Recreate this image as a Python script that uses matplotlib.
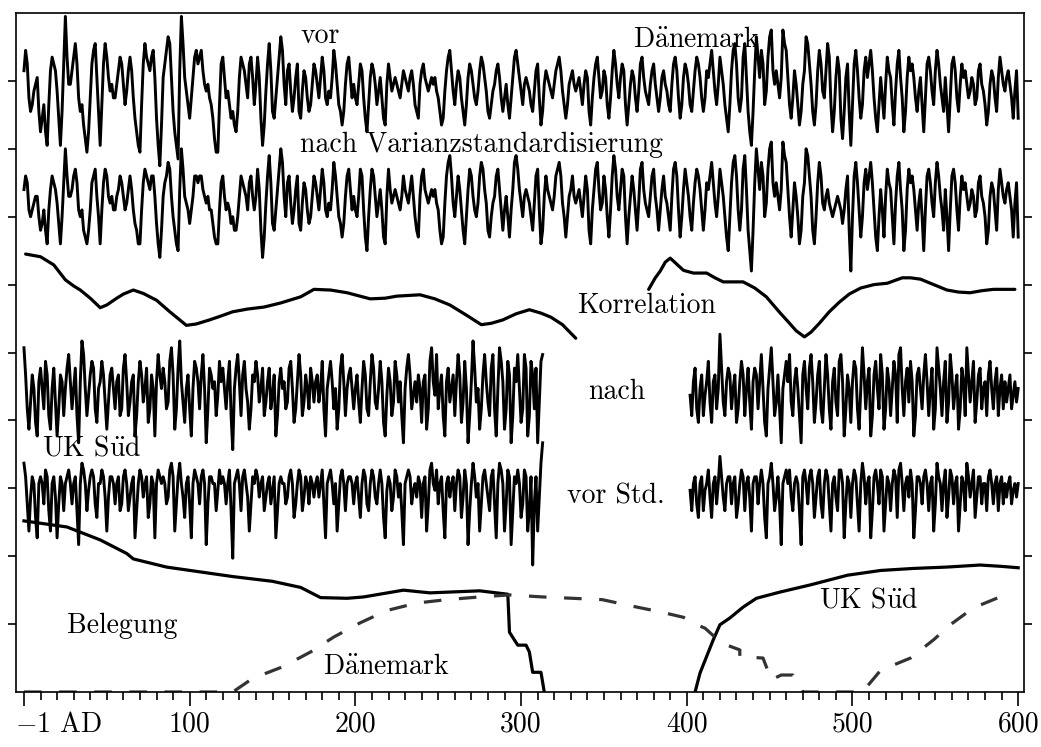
import numpy as np
import matplotlib
matplotlib.use("Agg")
import matplotlib.pyplot as plt

plt.rcParams['font.family'] = 'serif'
plt.rcParams['font.serif'] = ['cmr10', 'DejaVu Serif']
plt.rcParams['mathtext.fontset'] = 'cm'
plt.rcParams['axes.unicode_minus'] = False

# --- Dänemark ring index, one value per year from year 0 (tenths of a unit) ---
dk_start = 0
dk_vor = [
    3, 6, 4, -1, -3, -2, 0, 1, 2, -3, -6, -4, -2, -6, -8, -2, 3, 5, 4, 3,
    0, -4, -8, -3, 4, 11, 5, 1, 1, 3, 5, 7, 4, -1, -3, -2, -5, -7, -9, -6,
    -1, 4, 6, 7, 2, -3, -8, -2, 4, 7, 5, 2, 0, 1, -1, -1, 1, 3, 5, 4,
    1, -2, 0, 3, 5, 3, -1, -4, -6, -8, -9, -2, 4, 7, 5, 4, 3, 5, 6, 2,
    -4, -8, -11, -5, 2, 4, 6, 8, 7, 2, -3, -6, -8, -10, 3, 11, 7, 2, 0, -2,
    -4, -1, 2, 5, 6, 4, 5, 6, 3, 1, 0, 1, -1, -2, -4, -7, -9, -9, -2, 4,
    5, 2, -1, 0, -2, -4, -3, -5, -6, -3, 2, 5, 4, 3, 1, -1, 4, 5, 2, -2,
    1, 5, 2, -4, -8, -5, 0, 4, 7, 3, -3, -4, -1, 2, 5, 8, 6, 1, -2, 3,
    4, 0, -3, -1, 2, 4, -3, -4, 0, 3, 2, -1, -3, -2, 1, 4, 3, 1, -1, 2,
    5, 3, -1, -2, 0, -1, 2, 6, 4, 1, -2, -3, -5, -3, 1, 4, 5, 2, -1, 1,
    -1, -2, 1, 4, 3, -1, -4, -6, -2, 2, 4, 3, 1, -2, 0, 2, -1, -4, -5, 1,
    4, 2, 0, 1, 2, 1, 0, -1, 1, 3, 2, 1, 0, 2, 3, 1, -2, -3, -4, 1,
    3, 4, 2, 1, 0, 1, 2, 1, 2, 0, -1, -3, -5, -4, 0, 3, 5, 6, 3, 0,
    -2, 1, 3, 2, -1, -3, -5, -2, 2, 4, 3, 1, -1, -2, 0, 3, 5, 4, 2, 0,
    -3, -4, -2, 0, 1, 3, 4, 2, -1, -3, -1, 1, -2, -4, -1, 2, 5, 6, 4, 2,
    0, -2, 1, 2, 1, 0, -2, -3, 0, 3, 4, -1, -5, -3, 1, 3, 2, 1, 0, -1,
    1, 3, 4, 5, 3, 0, -2, -4, -2, 1, 2, 3, 1, 0, 1, 2, 0, -2, 1, 3,
    2, -3, -5, -1, 2, 4, 5, 2, -1, 0, 3, 2, -2, -4, -1, 3, 6, 4, 1, -1,
    2, 4, 3, -2, -5, -2, 1, 3, 2, -1, -3, 0, 4, 5, 2, 0, -1, -2, 1, 3,
    4, 1, -1, -3, -1, 2, 3, 1, 0, -2, -3, 1, 4, 5, 3, -1, -4, -2, 2, 4,
    3, 1, -2, -3, 0, 3, 5, 4, 2, -1, -3, -1, 3, 2, 4, 6, 3, 0, -2, 1,
    5, 3, 1, -2, -4, -6, -2, 3, 6, 7, 4, -1, -3, -1, 5, 7, 2, -3, -6, -8,
    -3, 3, 8, 5, 2, 6, 4, -2, 0, 5, 8, 9, 3, 1, 3, 1, -1, 2, 9, 7,
    6, 2, -2, -4, -1, 3, 1, -2, -5, -3, 1, 3, 8, 7, 4, 1, -3, -5, -2, 3,
    6, 4, 0, -1, 3, 7, 5, -2, -6, -3, 2, 5, 3, -4, -7, -3, 2, 4, -3, -8,
    -2, 4, 6, 3, -1, -4, -2, 3, 5, 2, 4, 6, 3, -1, -4, -6, -2, 2, -1, -4,
    1, 5, 3, 2, -2, -5, 0, 4, 6, 2, -1, -6, -3, 2, 5, 3, 4, 2, -1, -3,
    0, 2, -2, -6, -1, 4, 5, 3, 0, -2, 3, 6, 4, 1, -1, -3, 2, -2, -6, -1,
    4, 5, 3, -1, -3, 1, 4, 2, 3, 1, -1, 0, 2, 1, -2, -1, 3, 4, 1, 0,
    -2, -5, -3, 1, 3, 2, -1, -3, 2, 5, 3, 1, 0, 2, 3, 1, -1, -4, 0, 3,
    -4,
]
dk_nach = [
    2, 4, 3, -1, -2, -1, 0, 1, 1, -2, -4, -3, -1, -4, -6, -1, 2, 4, 3, 2,
    0, -3, -6, -2, 3, 8, 4, 1, 1, 2, 4, 5, 3, -1, -2, -1, -4, -5, -6, -4,
    -1, 3, 4, 5, 1, -2, -6, -1, 3, 5, 4, 1, 0, 1, -1, -1, 1, 2, 4, 3,
    1, -1, 0, 2, 4, 2, -1, -3, -4, -6, -6, -1, 3, 5, 4, 3, 2, 4, 4, 1,
    -3, -6, -8, -4, 1, 3, 4, 6, 5, 1, -2, -4, -6, -7, 2, 8, 5, 1, 0, -1,
    -3, -1, 1, 4, 4, 3, 4, 4, 2, 1, 0, 1, -1, -1, -3, -5, -6, -6, -1, 3,
    4, 1, -1, 0, -1, -3, -2, -4, -4, -2, 1, 4, 3, 2, 1, -1, 3, 4, 1, -1,
    1, 5, 2, -4, -8, -5, 0, 4, 7, 3, -3, -4, -1, 2, 5, 8, 6, 1, -2, 3,
    4, 0, -3, -1, 2, 4, -3, -4, 0, 3, 2, -1, -3, -2, 1, 4, 3, 1, -1, 2,
    5, 3, -1, -2, 0, -1, 2, 6, 4, 1, -2, -3, -5, -3, 1, 4, 5, 2, -1, 1,
    -1, -2, 1, 5, 4, -1, -5, -7, -2, 2, 5, 4, 1, -2, 0, 2, -1, -5, -6, 1,
    5, 2, 0, 1, 2, 1, 0, -1, 1, 4, 2, 1, 0, 2, 4, 1, -2, -4, -5, 1,
    4, 5, 2, 1, 0, 1, 2, 1, 2, 0, -1, -4, -6, -5, 0, 4, 6, 7, 4, 0,
    -2, 1, 4, 2, -1, -4, -6, -2, 2, 5, 4, 1, -1, -2, 0, 4, 6, 5, 2, 0,
    -4, -5, -2, 0, 1, 4, 5, 2, -1, -4, -1, 1, -2, -5, -1, 2, 6, 7, 5, 2,
    0, -2, 1, 2, 1, 0, -2, -4, 0, 4, 5, -1, -6, -4, 1, 4, 2, 1, 0, -1,
    1, 4, 5, 6, 4, 0, -2, -5, -2, 1, 2, 4, 1, 0, 1, 2, 0, -2, 1, 4,
    2, -4, -6, -1, 2, 5, 6, 2, -1, 0, 4, 2, -2, -5, -1, 4, 7, 5, 1, -1,
    2, 5, 4, -2, -6, -2, 1, 4, 2, -1, -4, 0, 5, 6, 2, 0, -1, -2, 1, 4,
    5, 1, -1, -4, -1, 2, 4, 1, 0, -2, -4, 1, 5, 6, 4, -1, -5, -2, 2, 5,
    3, 1, -2, -4, 0, 3, 5, 4, 2, -1, -4, -1, 3, 2, 4, 6, 3, 0, -2, 1,
    5, 3, 1, -2, -5, -7, -2, 3, 6, 7, 4, -1, -4, -1, 5, 7, 2, -4, -7, -10,
    -4, 3, 8, 5, 2, 6, 4, -2, 0, 5, 8, 9, 3, 1, 3, 1, -1, 2, 9, 7,
    6, 2, -2, -5, -1, 3, 1, -2, -6, -4, 1, 3, 8, 7, 4, 1, -4, -6, -2, 3,
    6, 4, 0, -1, 1, 2, 0, -1, -2, -1, 0, 1, 0, -1, -3, -1, 2, 4, -4, -10,
    -2, 4, 6, 3, -1, -5, -2, 3, 5, 2, 4, 6, 3, -1, -5, -7, -2, 2, -1, -5,
    1, 5, 3, 2, -2, -6, 0, 4, 6, 2, -1, -7, -4, 2, 5, 3, 4, 2, -1, -4,
    0, 2, -2, -7, -1, 4, 5, 3, 0, -2, 3, 6, 4, 1, -1, -4, 2, -2, -7, -1,
    4, 5, 3, -1, -4, 1, 4, 2, 3, 1, -1, 0, 2, 1, -2, -1, 3, 4, 1, 0,
    -2, -6, -4, 1, 3, 2, -1, -4, 2, 5, 3, 1, 0, 2, 3, 1, -1, -5, 0, 3,
    -5,
]

# --- UK Süd ring index, two pieces: from year 0 and from year 402 ---
uk_start_a, uk_start_b = 0, 402
uk_nach_a = [
    7, 3, -2, -5, -1, 3, 1, -4, -6, 2, 4, 1, -2, 5, 3, -3, -5, 1, 4, -1,
    -6, -2, 3, 2, -3, 1, 4, 6, 2, -2, 1, 4, -3, -7, 2, 8, 6, 1, -3, 0,
    3, 5, 4, -2, -4, 1, 2, 5, 3, -1, -5, -1, 3, 4, 1, -2, 2, 3, -3, -2,
    4, 6, 2, -3, -1, 2, 3, -6, -3, 2, 5, 3, -1, 1, 4, -4, -2, 3, 1, -6,
    2, 6, 3, 1, 4, 2, -2, -1, 5, 7, 3, -5, -2, 4, 8, 2, -1, -4, 1, 3,
    -2, -6, 1, 5, 4, 2, -2, 3, 6, 1, -7, -2, 4, 3, 1, 2, -3, 0, 5, 2,
    4, 1, -2, 2, 5, -3, -8, 1, 4, 6, 2, -3, 3, 5, 1, -1, -5, -2, 3, 2,
    5, 3, -1, 1, 4, -3, -1, 2, 4, -2, 0, 3, -6, -3, 2, 4, 1, 2, -2, -1,
    4, 5, 1, -4, -2, 2, 6, 3, -3, -1, 3, 1, -2, 4, 2, -1, 2, 3, -1, 1,
    5, -2, -6, 1, 3, 5, 2, -2, 1, -5, -2, 4, 6, 2, -3, 1, 3, 4, 1, -2,
    1, 3, -1, -4, 1, 5, 3, -2, -3, 2, 6, 4, -1, -2, 1, 5, 2, -4, -6, 0,
    4, 2, -3, -1, 5, 3, -1, 2, -3, -7, 1, 4, 6, 3, -2, 0, 2, -1, 3, 1,
    -4, 2, 3, -5, -2, 5, 7, 2, 0, 6, -2, 1, 3, -3, -6, 2, 4, -1, 1, 3,
    -3, 2, 6, 3, -4, -1, 5, 1, -7, -3, 2, 8, 4, -1, 1, -5, -2, 3, 6, 2,
    -1, -3, 4, 6, -2, -6, 1, 7, 5, 2, -5, -2, 5, 3, -7, -3, 4, 2, 6, 1,
    -4, -2, 6, 4, -6, -3, 5, 3, -2, 4, -7, -1, 5, 6,
]
uk_nach_b = [
    0, -3, 2, 4, -2, -4, 1, 3, -3, 0, 2, 5, -1, -4, 2, 3, -2, 1, 9, 4,
    -1, -3, 2, 4, 3, -2, 1, 3, -4, -2, 2, 5, 3, -3, 1, 4, -1, -5, 2, 4,
    3, -2, 2, 6, 1, -4, -6, 1, 4, 7, 2, -3, -1, 3, -2, -7, 1, 3, 5, 2,
    6, -1, -3, 2, 4, 1, -3, -7, 3, 5, 1, -2, 4, 6, 2, -4, -1, 3, 5, -2,
    -4, 1, 6, 3, -2, -5, 2, 4, -1, -3, 5, 6, 2, -6, -2, 3, 1, -4, 2, 5,
    4, -2, -5, 1, 7, 3, -2, 2, 4, -6, -3, 3, 5, 1, -2, 6, 3, -5, -2, 4,
    2, -3, 1, 5, 3, -4, 6, 7, 1, -3, 2, 4, -1, 5, 2, -6, -3, 3, 4, 1,
    -2, 3, 6, 2, -3, 1, 4, -5, -2, 7, 4, 1, -3, 2, 5, -4, -1, 6, 3, -2,
    1, 3, -5, -2, 4, 2, -3, 7, 3, -1, 2, 5, -4, -1, 3, 4, -2, 1, 2, -3,
    3, 5, 1, -2, 2, 4, -3, 1, 3, -2, 2, -1, 1, 3, -2, 0, 2, -1, 1,
]
uk_vor_a = [
    4, 2, -2, -6, -1, 2, 1, -4, -7, 1, 2, 1, -2, 3, 2, -3, -6, 1, 2, -1,
    -7, -2, 2, 1, -3, 1, 2, 3, 1, -2, 1, 2, -3, -8, 1, 4, 3, 1, -3, 0,
    2, 3, 2, -2, -4, 1, 1, 3, 2, -1, -6, -1, 2, 2, 1, -2, 1, 2, -3, -2,
    2, 3, 1, -3, -1, 1, 2, -7, -3, 1, 3, 2, -1, 1, 2, -4, -2, 2, 1, -7,
    1, 3, 2, 1, 2, 1, -2, -1, 3, 4, 2, -6, -2, 2, 4, 1, -1, -4, 1, 2,
    -2, -7, 1, 3, 2, 1, -2, 2, 3, 1, -8, -2, 2, 2, 1, 1, -3, 0, 3, 1,
    2, 1, -2, 1, 3, -3, -10, 1, 2, 3, 1, -3, 2, 3, 1, -1, -6, -2, 2, 1,
    3, 2, -1, 1, 2, -3, -1, 1, 2, -2, 0, 2, -7, -3, 1, 2, 1, 1, -2, -1,
    2, 3, 1, -4, -2, 1, 3, 2, -3, -1, 2, 1, -2, 2, 1, -1, 1, 2, -1, 1,
    3, -2, -7, 1, 2, 3, 1, -2, 1, -6, -2, 2, 3, 1, -3, 1, 2, 2, 1, -2,
    1, 2, -1, -4, 1, 3, 2, -2, -3, 1, 3, 2, -1, -2, 1, 3, 1, -4, -7, 0,
    2, 1, -3, -1, 3, 2, -1, 1, -3, -8, 1, 2, 3, 2, -2, 0, 1, -1, 2, 1,
    -4, 1, 2, -6, -2, 3, 4, 1, 0, 3, -2, 1, 2, -3, -7, 1, 2, -1, 1, 2,
    -3, 1, 3, 2, -4, -1, 3, 1, -8, -3, 1, 4, 2, -1, 1, -6, -2, 2, 3, 1,
    -1, -3, 2, 3, -2, -7, 1, 4, 3, 1, -6, -2, 3, 2, -8, -3, 2, 1, 3, 1,
    -4, -2, 3, 2, -6, -3, 2, -11, -2, 2, -6, -1, 4, 7,
]
uk_vor_b = [
    0, -3, 1, 2, -2, -4, 1, 2, -3, 0, 1, 3, -1, -4, 1, 2, -2, 1, 5, 2,
    -1, -3, 1, 2, 2, -2, 1, 2, -4, -2, 1, 3, 2, -3, 1, 2, -1, -6, 1, 2,
    2, -2, 1, 3, 1, -4, -7, 1, 2, 4, 1, -3, -1, 2, -2, -8, 1, 2, 3, 1,
    3, -1, -3, 1, 2, 1, -3, -8, 2, 3, 1, -2, 2, 3, 1, -4, -1, 2, 3, -2,
    -4, 1, 3, 2, -2, -6, 1, 2, -1, -3, 3, 3, 1, -7, -2, 2, 1, -4, 1, 3,
    2, -2, -6, 1, 4, 2, -2, 1, 2, -7, -3, 2, 3, 1, -2, 3, 2, -6, -2, 2,
    1, -3, 1, 3, 2, -4, 3, 4, 1, -3, 1, 2, -1, 3, 1, -7, -3, 2, 2, 1,
    -2, 2, 3, 1, -3, 1, 2, -6, -2, 4, 2, 1, -3, 1, 3, -4, -1, 3, 2, -2,
    1, 2, -6, -2, 2, 1, -3, 4, 2, -1, 1, 3, -4, -1, 2, 2, -2, 1, 1, -3,
    2, 3, 1, -2, 1, 2, -3, 1, 2, -2, 1, -1, 1, 2, -2, 0, 1, -1, 1,
]

# --- Korrelation (running correlation), two pieces ---
korr_years_a = [1, 10, 18, 25, 30, 34, 40, 46, 50, 56, 60, 66, 72, 80, 88, 98, 104,
                112, 118, 126, 135, 145, 155, 167, 175, 185, 195, 209, 218, 225,
                239, 248, 257, 267, 276, 282, 289, 297, 305, 312, 318, 325, 333]
korr_a = [6.45, 6.41, 6.29, 6.07, 5.98, 5.92, 5.80, 5.66, 5.70, 5.80, 5.86, 5.92,
          5.87, 5.77, 5.60, 5.40, 5.42, 5.48, 5.53, 5.60, 5.64, 5.67, 5.73, 5.82,
          5.93, 5.92, 5.88, 5.79, 5.80, 5.83, 5.85, 5.79, 5.70, 5.55, 5.41, 5.43,
          5.48, 5.57, 5.63, 5.58, 5.52, 5.41, 5.21]
korr_years_b = [377, 381, 384, 387, 390, 394, 398, 404, 412, 417, 422, 428, 434,
                441, 448, 455, 462, 466, 471, 475, 480, 486, 492, 498, 505, 513,
                521, 530, 535, 541, 549, 557, 564, 571, 578, 585, 592, 598]
korr_b = [5.93, 6.10, 6.20, 6.33, 6.39, 6.30, 6.21, 6.17, 6.17, 6.10, 6.04, 6.04,
          6.04, 5.95, 5.82, 5.62, 5.43, 5.32, 5.23, 5.30, 5.43, 5.60, 5.74, 5.86,
          5.95, 6.00, 6.02, 6.10, 6.10, 6.08, 6.00, 5.92, 5.89, 5.88, 5.91, 5.93,
          5.93, 5.93]

# --- Belegung (sample depth) ---
bel_uk_years_a = [0, 26, 46, 62, 66, 86, 106, 126, 150, 167, 179, 195, 205, 229,
                  245, 275, 292, 293, 298, 303, 305, 307, 312, 314]
bel_uk_a = [2.52, 2.43, 2.24, 2.04, 1.96, 1.84, 1.77, 1.70, 1.63, 1.54, 1.39, 1.38,
            1.40, 1.50, 1.46, 1.49, 1.44, 0.88, 0.69, 0.69, 0.59, 0.29, 0.29, 0.0]
bel_uk_years_b = [405, 408, 416, 420, 426, 434, 442, 456, 475, 497, 517, 537, 557,
                  577, 590, 600]
bel_uk_b = [0.0, 0.28, 0.77, 0.99, 1.09, 1.25, 1.38, 1.47, 1.58, 1.72, 1.79, 1.82,
            1.84, 1.87, 1.85, 1.83]
bel_dk_years = [0, 126, 138, 156, 173, 187, 203, 219, 237, 255, 275, 293, 313, 331,
                349, 366, 384, 398, 405, 411, 421, 432, 432, 446, 451, 457, 464,
                468, 470, 497, 506, 517, 535, 549, 559, 573, 589, 595]
bel_dk = [0.0, 0.0, 0.20, 0.37, 0.59, 0.81, 1.02, 1.20, 1.31, 1.36, 1.40, 1.43, 1.40,
          1.38, 1.36, 1.27, 1.18, 1.10, 1.00, 0.94, 0.72, 0.62, 0.52, 0.50, 0.18,
          0.25, 0.25, 0.10, 0.0, 0.0, 0.0, 0.32, 0.50, 0.77, 0.99, 1.24, 1.40, 1.44]

xtick_pos = [0, 100, 200, 300, 400, 500, 600]
xtick_labels = ['', '100', '200', '300', '400', '500', '600']

# vertical offset of each stacked curve (data units) and size of one tenth
base_dk_vor, base_dk_nach = 8.85, 7.2
base_uk_nach, base_uk_vor = 4.37, 2.97
step = 0.1


def yrs(start, vals):
    return start + np.arange(len(vals))


fig = plt.figure(figsize=(10.41, 7.47), dpi=100)
ax = fig.add_axes([16 / 1041, 55 / 747, 1008 / 1041, 679 / 747])

lw = 2.1
ax.plot(yrs(dk_start, dk_vor), base_dk_vor + step * np.array(dk_vor), color='black', lw=lw)
ax.plot(yrs(dk_start, dk_nach), base_dk_nach + step * np.array(dk_nach), color='black', lw=lw)
ax.plot(yrs(uk_start_a, uk_nach_a), base_uk_nach + step * np.array(uk_nach_a), color='black', lw=lw)
ax.plot(yrs(uk_start_b, uk_nach_b), base_uk_nach + step * np.array(uk_nach_b), color='black', lw=lw)
ax.plot(yrs(uk_start_a, uk_vor_a), base_uk_vor + step * np.array(uk_vor_a), color='black', lw=lw)
ax.plot(yrs(uk_start_b, uk_vor_b), base_uk_vor + step * np.array(uk_vor_b), color='black', lw=lw)

ax.plot(korr_years_a, korr_a, color='black', lw=2.3, solid_capstyle='round',
        solid_joinstyle='round')
ax.plot(korr_years_b, korr_b, color='black', lw=2.3, solid_capstyle='round',
        solid_joinstyle='round')

ax.plot(bel_uk_years_a, bel_uk_a, color='black', lw=2.3)
ax.plot(bel_uk_years_b, bel_uk_b, color='black', lw=2.3)
ax.plot(bel_dk_years, bel_dk, color='#333333', lw=2.3, dashes=(5.5, 5.5))

fs = 20
ax.text(166.6, 9.56, 'vor', fontsize=fs)
ax.text(367.5, 9.50, r'D$\ddot{\mathrm{a}}$nemark', fontsize=fs)
ax.text(166.6, 7.95, 'nach Varianzstandardisierung', fontsize=fs)
ax.text(333.7, 5.58, 'Korrelation', fontsize=fs)
ax.text(340.4, 4.31, 'nach', fontsize=fs)
ax.text(10.9, 3.49, r'UK S$\ddot{\mathrm{u}}$d', fontsize=fs)
ax.text(327.7, 2.78, 'vor Std.', fontsize=fs)
ax.text(25.9, 0.87, 'Belegung', fontsize=fs)
ax.text(180.4, 0.265, r'D$\ddot{\mathrm{a}}$nemark', fontsize=fs)
ax.text(479.8, 1.24, r'UK S$\ddot{\mathrm{u}}$d', fontsize=fs)

ax.set_xlim(-4.8, 603.5)
ax.set_ylim(0, 10)
ax.set_xticks(xtick_pos)
ax.set_xticklabels(xtick_labels)
ax.set_xticks(np.arange(10, 600, 10), minor=True)
ax.set_yticks(np.arange(1, 10))
ax.set_yticklabels([])
ax.tick_params(axis='x', which='major', direction='out', length=10, width=1.2,
               labelsize=fs, pad=4, top=False)
ax.tick_params(axis='x', which='minor', direction='out', length=5.5, width=1.2, top=False)
ax.tick_params(axis='y', which='major', direction='out', length=5.5, width=1.2,
               left=True, right=True)
ax.annotate(r'$-1$ AD', xy=(0, 0), xycoords=('data', 'axes fraction'),
            xytext=(-6.5, -14), textcoords='offset points', ha='left', va='top',
            fontsize=fs)
for s in ax.spines.values():
    s.set_linewidth(1.2)

fig.savefig('out.png', dpi=100)
